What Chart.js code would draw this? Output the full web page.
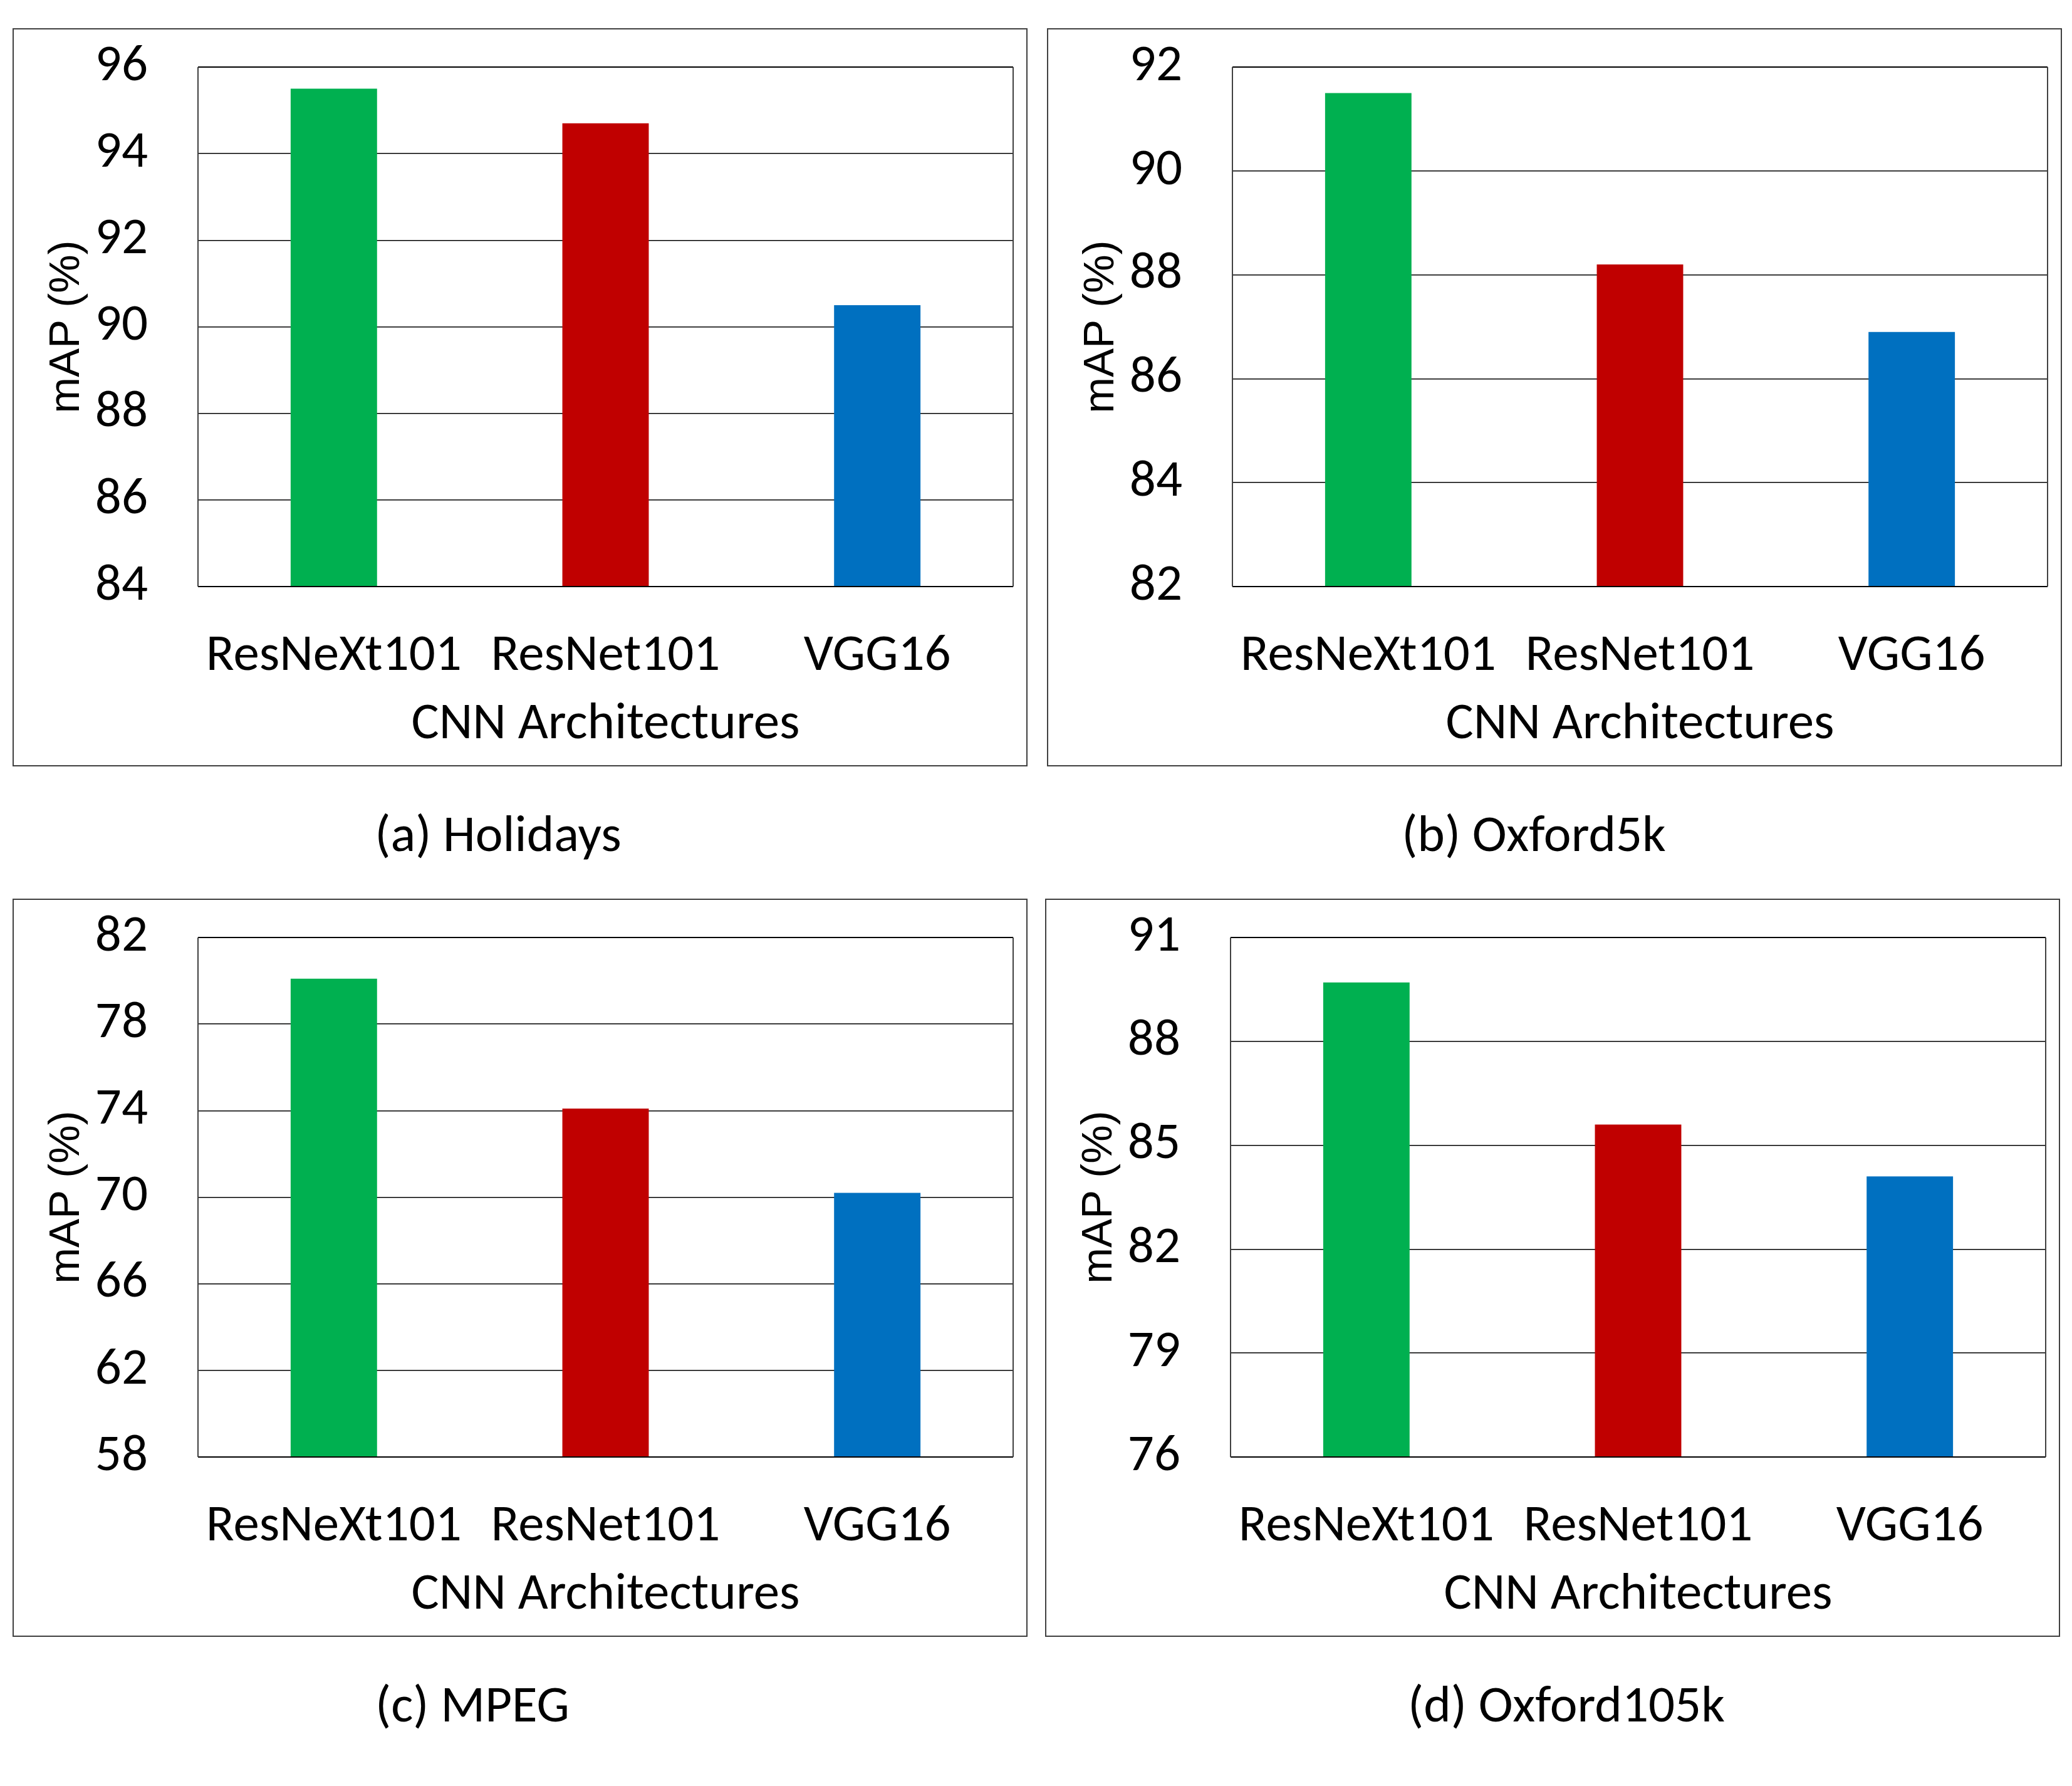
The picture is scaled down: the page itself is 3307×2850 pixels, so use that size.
<!DOCTYPE html>
<html>
<head>
<meta charset="utf-8">
<title>mAP of CNN architectures</title>
<script src="https://cdn.jsdelivr.net/npm/chart.js@4.4.1/dist/chart.umd.min.js"></script>
<style>
  html, body { margin: 0; padding: 0; background: #fff; }
  body { width: 3307px; height: 2850px; position: relative; overflow: hidden; }
  .panel { position: absolute; width: 1620px; height: 1178px; box-sizing: border-box; border: 2px solid #404040; }
  .panel canvas { display: block; }
  .cap { position: absolute; font-family: Carlito, Calibri, Lato, sans-serif; font-size: 83px; line-height: 83px;
         transform: translateX(-50%); white-space: nowrap; color: #000; }
</style>
</head>
<body>

<div class="panel" style="left:20px;top:45px"><canvas id="chartHolidays" width="1616" height="1174"></canvas></div>
<div class="panel" style="left:1671px;top:45px"><canvas id="chartOxford5k" width="1616" height="1174"></canvas></div>
<div class="panel" style="left:20px;top:1434px"><canvas id="chartMpeg" width="1616" height="1174"></canvas></div>
<div class="panel" style="left:1668px;top:1434px"><canvas id="chartOxford105k" width="1616" height="1174"></canvas></div>

<div class="cap" style="left:795px;top:1288px">(a) Holidays</div>
<div class="cap" style="left:2448px;top:1288px">(b) Oxford5k</div>
<div class="cap" style="left:754px;top:2677px">(c) MPEG</div>
<div class="cap" style="left:2500px;top:2677px">(d) Oxford105k</div>

<script>
// Категорії та кольори стовпчиків (однакові для всіх чотирьох панелей)
const architectures = ['ResNeXt101', 'ResNet101', 'VGG16'];
const barColors = ['#00B050', '#C00000', '#0070C0'];

// mAP (%) для кожного набору даних
const holidaysMap = [95.5, 94.7, 90.5];
const oxford5kMap = [91.5, 88.2, 86.9];
const mpegMap = [80.1, 74.1, 70.2];
const oxford105kMap = [89.7, 85.6, 84.1];

// Межі осі Y: [min, max, крок]
const holidaysAxis = [84, 96, 2];
const oxford5kAxis = [82, 92, 2];
const mpegAxis = [58, 82, 4];
const oxford105kAxis = [76, 91, 3];

const labelFont = 'Carlito, Calibri, Lato, sans-serif';
const labelSize = 83;

// Рамка області побудови: верх/низ чорні, боки темно-сірі
const plotFrame = {
    id: 'plotFrame',
    afterDatasetsDraw(chart) {
        const { ctx, chartArea: a } = chart;
        ctx.save();
        ctx.lineWidth = 2;
        ctx.strokeStyle = '#000';
        ctx.beginPath();
        ctx.moveTo(a.left, a.top); ctx.lineTo(a.right, a.top);
        ctx.moveTo(a.left, a.bottom); ctx.lineTo(a.right, a.bottom);
        ctx.stroke();
        ctx.strokeStyle = '#404040';
        ctx.beginPath();
        ctx.moveTo(a.left, a.top); ctx.lineTo(a.left, a.bottom);
        ctx.moveTo(a.right, a.top); ctx.lineTo(a.right, a.bottom);
        ctx.stroke();
        ctx.restore();
    }
};

function drawPanel(canvasId, values, axis) {
    const ctx = document.getElementById(canvasId).getContext('2d');
    return new Chart(ctx, {
        type: 'bar',
        data: {
            labels: architectures,
            datasets: [{
                data: values,
                backgroundColor: barColors,
                borderWidth: 0,
                barPercentage: 0.318,
                categoryPercentage: 1
            }]
        },
        options: {
            responsive: false,
            animation: false,
            layout: { padding: { top: 60, right: 21, left: 0, bottom: 0 } },
            plugins: { legend: { display: false }, tooltip: { enabled: false } },
            scales: {
                x: {
                    grid: { display: false },
                    border: { display: false },
                    ticks: { color: '#000', padding: 54, font: { family: labelFont, size: labelSize } },
                    title: {
                        display: true, text: 'CNN Architectures', color: '#000',
                        font: { family: labelFont, size: labelSize }, padding: { top: 0, bottom: 14 }
                    },
                    afterFit: (scale) => { scale.height = 285; scale.paddingLeft = 0; scale.paddingRight = 0; }
                },
                y: {
                    min: axis[0], max: axis[1],
                    grid: { color: '#000', lineWidth: 1.5, drawTicks: false },
                    border: { display: false },
                    ticks: { stepSize: axis[2], color: '#000', padding: 80, font: { family: labelFont, size: labelSize } },
                    title: {
                        display: true, text: 'mAP (%)', color: '#000',
                        font: { family: '"Liberation Sans", Arial, sans-serif', size: 69 },
                        padding: { top: 44, bottom: 0 }
                    },
                    afterFit: (scale) => { scale.width = 294; scale.paddingTop = 0; scale.paddingBottom = 0; }
                }
            }
        },
        plugins: [plotFrame]
    });
}

Promise.all([
    document.fonts.load('83px Lato'),
    document.fonts.load('69px "Liberation Sans"')
]).catch(() => null).then(() => {
    drawPanel('chartHolidays', holidaysMap, holidaysAxis);
    drawPanel('chartOxford5k', oxford5kMap, oxford5kAxis);
    drawPanel('chartMpeg', mpegMap, mpegAxis);
    drawPanel('chartOxford105k', oxford105kMap, oxford105kAxis);
});
</script>
</body>
</html>
